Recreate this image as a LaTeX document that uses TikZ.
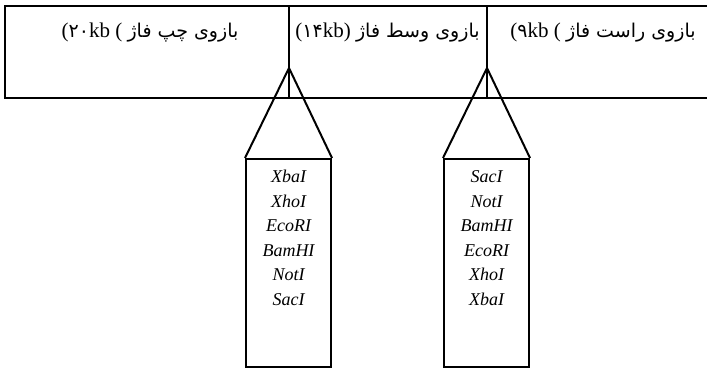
\documentclass[tikz,border=0pt]{standalone}
\usepackage{fontspec}
\setmainfont{Liberation Serif}
\newfontfamily\arabicfont[Script=Arabic]{DejaVu Sans}
\TeXXeTstate=1
\newcommand{\fadigits}[1]{{\arabicfont\fontsize{19}{22}\selectfont #1}}
\newcommand{\fatext}[1]{{\arabicfont\fontsize{19}{22}\selectfont\beginR #1\endR}}
\begin{document}
\begin{tikzpicture}[x=1pt,y=-1pt,line width=2pt,
  enzbox/.style={draw,minimum width=85pt,minimum height=208pt,inner sep=0pt,anchor=north},
  enzname/.style={font=\fontsize{18}{22}\selectfont\itshape,inner sep=0pt,anchor=base},
  toplabel/.style={font=\fontsize{21}{24}\selectfont,inner sep=0pt,anchor=base}]
\useasboundingbox (0,0) rectangle (707,368);
% outer frame (open on the right)
\draw (707,6) -- (5,6) -- (5,98) -- (707,98);
% dividers
\coordinate (d1top) at (289,6);
\coordinate (d1bot) at (289,98);
\coordinate (d2top) at (487,6);
\coordinate (d2bot) at (487,98);
\draw (d1top) -- (d1bot);
\draw (d2top) -- (d2bot);
% top labels
\node[toplabel] (lt) at (150,37) {(\fadigits{۲۰}kb ( \fatext{بازوی چپ فاژ}};
\node[toplabel] (mt) at (387.5,37) {(\fadigits{۱۴}kb) \fatext{بازوی وسط فاژ}};
\node[toplabel] (rt) at (603,37) {(\fadigits{۹}kb ( \fatext{بازوی راست فاژ}};
% apexes
\coordinate (la) at (289,68);
\coordinate (ra) at (487,68);
% boxes
\node[enzbox] (lbox) at (288.5,158) {};
\node[enzbox] (rbox) at (486.5,158) {};
\draw (lbox.north west) -- (la) -- (lbox.north east);
\draw (rbox.north west) -- (ra) -- (rbox.north east);
% enzyme names
\foreach \n [count=\i from 0] in {XbaI,XhoI,EcoRI,BamHI,NotI,SacI}
  \node[enzname] (l\i) at (288.5,182.7+24.5*\i) {\n};
\foreach \n [count=\i from 0] in {SacI,NotI,BamHI,EcoRI,XhoI,XbaI}
  \node[enzname] (r\i) at (486.5,182.7+24.5*\i) {\n};
\end{tikzpicture}
\end{document}
